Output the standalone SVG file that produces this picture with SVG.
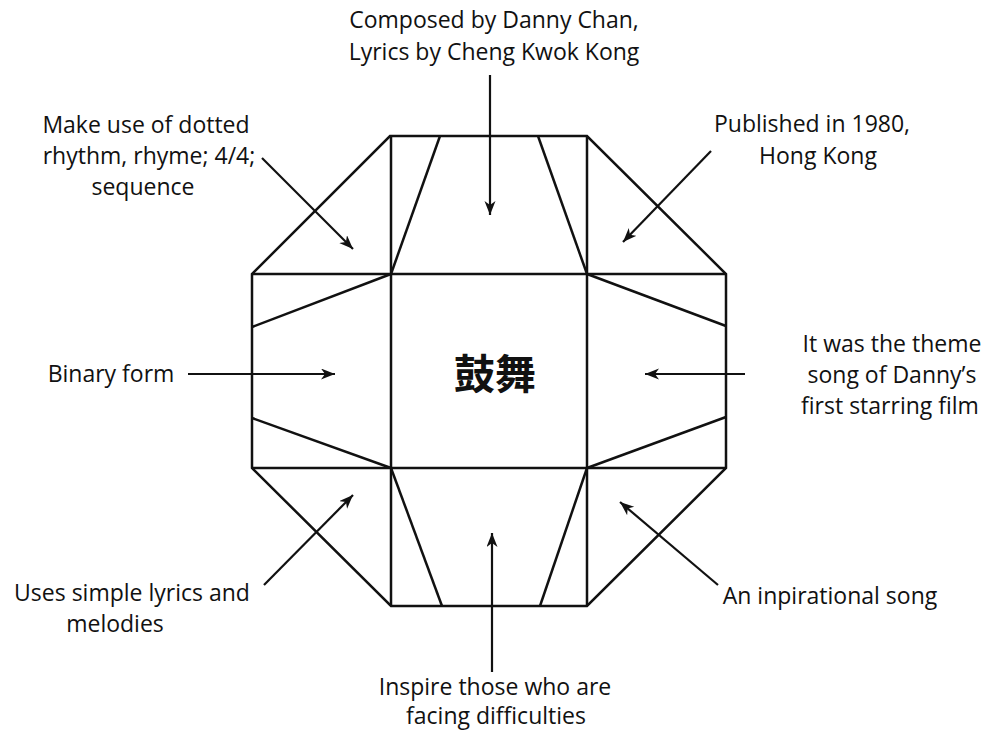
<svg xmlns="http://www.w3.org/2000/svg" width="989" height="733" viewBox="0 0 989 733">
<style>
.shape{fill:none;stroke:#111;stroke-width:2.5;stroke-linejoin:miter}
.arr{stroke:#111;stroke-width:2.2;fill:none}
text{font-family:"Open Sans","Noto Sans",sans-serif;font-size:23px;fill:#111;text-anchor:middle}
.cjk{font-family:"Noto Sans CJK SC","Noto Sans CJK TC",sans-serif;font-size:41px;font-weight:bold}
</style>
<defs>
<marker id="ah" markerUnits="userSpaceOnUse" markerWidth="16" markerHeight="12" refX="14" refY="5.5" orient="auto">
<path d="M0,0 L14,5.5 L0,11 L4,5.5 z" fill="#111"/>
</marker>
</defs>
<rect width="989" height="733" fill="#fff"/>
<g id="octagon">
<polygon class="shape" points="390,136 587,136 726,274 726,468 587,606 391,606 252,468 252,274"/>
<line class="shape" x1="252" y1="274" x2="726" y2="274"/>
<line class="shape" x1="252" y1="468" x2="726" y2="468"/>
<line class="shape" x1="391" y1="136" x2="391" y2="606"/>
<line class="shape" x1="587" y1="136" x2="587" y2="606"/>
<line class="shape" x1="440" y1="136" x2="391" y2="274"/>
<line class="shape" x1="538" y1="136" x2="587" y2="274"/>
<line class="shape" x1="391" y1="274" x2="252" y2="327"/>
<line class="shape" x1="587" y1="274" x2="726" y2="326"/>
<line class="shape" x1="252" y1="418" x2="391" y2="468"/>
<line class="shape" x1="726" y1="417" x2="587" y2="468"/>
<line class="shape" x1="391" y1="468" x2="442" y2="606"/>
<line class="shape" x1="587" y1="468" x2="540" y2="606"/>
</g>
<g id="center"><text class="cjk" x="495" y="389">鼓舞</text></g>
<g id="connectors">
<line class="arr" x1="490" y1="75" x2="490" y2="215" marker-end="url(#ah)"/>
<line class="arr" x1="262" y1="158" x2="353" y2="249" marker-end="url(#ah)"/>
<line class="arr" x1="711" y1="151" x2="623" y2="242" marker-end="url(#ah)"/>
<line class="arr" x1="188" y1="374" x2="335" y2="374" marker-end="url(#ah)"/>
<line class="arr" x1="745" y1="374" x2="645" y2="374" marker-end="url(#ah)"/>
<line class="arr" x1="264" y1="585" x2="353" y2="495" marker-end="url(#ah)"/>
<line class="arr" x1="492" y1="672" x2="492" y2="533" marker-end="url(#ah)"/>
<line class="arr" x1="718" y1="585" x2="620" y2="502" marker-end="url(#ah)"/>
</g>
<g id="n-top"><text x="494" y="28">Composed by Danny Chan,</text><text x="494" y="60">Lyrics by Cheng Kwok Kong</text></g>
<g id="n-topleft"><text x="146" y="133">Make use of dotted</text><text x="149" y="164">rhythm, rhyme; 4/4;</text><text x="143" y="195">sequence</text></g>
<g id="n-topright"><text x="812" y="132">Published in 1980,</text><text x="818" y="164">Hong Kong</text></g>
<g id="n-left"><text x="111" y="382">Binary form</text></g>
<g id="n-right"><text x="892" y="352">It was the theme</text><text x="892" y="383">song of Danny’s</text><text x="890" y="414">first starring film</text></g>
<g id="n-bottomleft"><text x="132" y="601">Uses simple lyrics and</text><text x="115" y="632">melodies</text></g>
<g id="n-bottomright"><text x="830" y="604">An inpirational song</text></g>
<g id="n-bottom"><text x="495" y="695">Inspire those who are</text><text x="496" y="724">facing difficulties</text></g>
</svg>
